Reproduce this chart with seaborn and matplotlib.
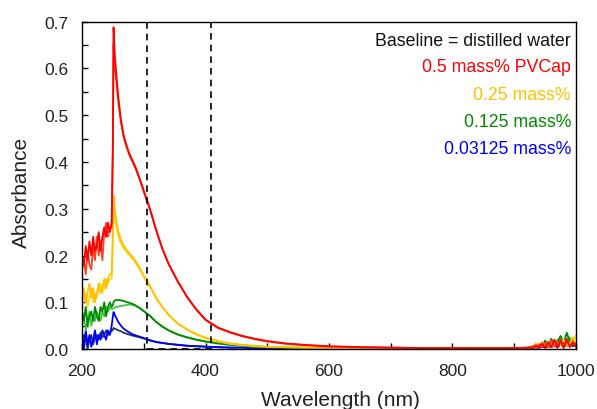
import matplotlib
matplotlib.use("Agg")
import matplotlib.pyplot as plt
from matplotlib.patches import Rectangle
from matplotlib.ticker import MultipleLocator
import seaborn as sns
import pandas as pd

# ---------------- data ----------------
wavelength = [200, 203, 206, 209, 212, 215, 218, 221, 224, 227, 230, 233, 236, 239, 242, 245, 248,
              250, 251, 252, 253,
              256, 259, 263, 267, 271, 276, 281, 287, 294, 301,
              310, 320, 330, 340, 355, 370, 385, 400,
              420, 440, 460, 480, 500, 530, 560, 600,
              650, 700, 750, 800, 850, 900,
              920, 930, 935, 940, 945, 950, 955, 960, 965, 970, 975, 980, 985, 990, 995, 1000]

red_a = [0.20, 0.18, 0.22, 0.19, 0.23, 0.20, 0.24, 0.21, 0.22, 0.25, 0.21, 0.24, 0.26, 0.24, 0.27, 0.25, 0.27,
         0.45, 0.688, 0.66, 0.63,
         0.58, 0.535, 0.49, 0.46, 0.44, 0.42, 0.405, 0.388, 0.362, 0.335,
         0.30, 0.255, 0.215, 0.183, 0.145, 0.112, 0.085, 0.063,
         0.046, 0.036, 0.028, 0.022, 0.017, 0.012, 0.009, 0.006,
         0.004, 0.003, 0.002, 0.002, 0.002, 0.002,
         0.003, 0.002, 0.008, 0.003, 0.012, 0.002, 0.015, 0.004, 0.02, 0.003, 0.018, 0.002, 0.022, 0.004, 0.015, 0.005]
red_b = [0.17, 0.19, 0.16, 0.21, 0.18, 0.17, 0.22, 0.19, 0.24, 0.20, 0.23, 0.19, 0.25, 0.27, 0.24, 0.26, 0.26,
         0.42, 0.65, 0.63, 0.605,
         0.565, 0.525, 0.485, 0.455, 0.436, 0.417, 0.402, 0.385, 0.36, 0.332,
         0.298, 0.254, 0.214, 0.182, 0.144, 0.111, 0.084, 0.062,
         0.045, 0.035, 0.027, 0.021, 0.016, 0.011, 0.008, 0.005,
         0.004, 0.003, 0.002, 0.002, 0.002, 0.002,
         0.002, 0.006, 0.003, 0.01, 0.004, 0.013, 0.003, 0.018, 0.005, 0.012, 0.02, 0.004, 0.016, 0.006, 0.01, 0.012]
yellow_a = [0.11, 0.13, 0.10, 0.12, 0.14, 0.11, 0.13, 0.10, 0.12, 0.14, 0.12, 0.13, 0.15, 0.13, 0.15, 0.16, 0.16,
            0.25, 0.328, 0.315, 0.30,
            0.272, 0.25, 0.233, 0.222, 0.214, 0.206, 0.198, 0.188, 0.172, 0.155,
            0.135, 0.11, 0.09, 0.074, 0.055, 0.042, 0.032, 0.024,
            0.017, 0.012, 0.009, 0.007, 0.005, 0.004, 0.003, 0.002,
            0.001, 0.001, 0.001, 0.001, 0.001, 0.001,
            0.002, 0.005, 0.012, 0.004, 0.015, 0.006, 0.01, 0.018, 0.005, 0.014, 0.008, 0.02, 0.006, 0.012, 0.025, 0.01]
yellow_b = [0.09, 0.11, 0.12, 0.09, 0.11, 0.13, 0.10, 0.12, 0.11, 0.13, 0.14, 0.12, 0.13, 0.15, 0.14, 0.15, 0.15,
            0.23, 0.306, 0.295, 0.282,
            0.258, 0.24, 0.226, 0.216, 0.209, 0.201, 0.194, 0.184, 0.169, 0.152,
            0.133, 0.108, 0.089, 0.073, 0.054, 0.041, 0.031, 0.023,
            0.016, 0.011, 0.008, 0.006, 0.005, 0.004, 0.003, 0.002,
            0.001, 0.001, 0.001, 0.001, 0.001, 0.001,
            0.001, 0.004, 0.008, 0.003, 0.012, 0.004, 0.016, 0.005, 0.011, 0.007, 0.014, 0.004, 0.018, 0.008, 0.013, 0.03]
green_a = [0.08, 0.06, 0.09, 0.05, 0.07, 0.08, 0.06, 0.09, 0.07, 0.06, 0.09, 0.08, 0.10, 0.07, 0.09, 0.10, 0.09,
           0.095, 0.10, 0.102, 0.104,
           0.105, 0.105, 0.104, 0.103, 0.101, 0.099, 0.097, 0.093, 0.087, 0.08,
           0.071, 0.058, 0.048, 0.04, 0.031, 0.025, 0.02, 0.016,
           0.012, 0.009, 0.007, 0.005, 0.004, 0.003, 0.002, 0.002,
           0.001, 0.001, 0.001, 0.001, 0.001, 0.001,
           0.002, 0.006, 0.003, 0.01, 0.005, 0.018, 0.008, 0.022, 0.01, 0.015, 0.028, 0.012, 0.035, 0.015, 0.02, 0.01]
green_b = [0.05, 0.07, 0.04, 0.06, 0.08, 0.05, 0.07, 0.06, 0.08, 0.07, 0.06, 0.08, 0.07, 0.09, 0.08, 0.09, 0.085,
           0.086, 0.087, 0.088, 0.089,
           0.09, 0.091, 0.092, 0.093, 0.094, 0.095, 0.095, 0.092, 0.087, 0.08,
           0.07, 0.058, 0.048, 0.04, 0.031, 0.025, 0.02, 0.016,
           0.012, 0.009, 0.007, 0.005, 0.004, 0.003, 0.002, 0.002,
           0.001, 0.001, 0.001, 0.001, 0.001, 0.001,
           0.003, 0.004, 0.009, 0.005, 0.012, 0.007, 0.01, 0.015, 0.006, 0.02, 0.009, 0.016, 0.008, 0.025, 0.012, 0.006]
blue_a = [0.03, 0.00, 0.04, 0.01, 0.03, 0.005, 0.02, 0.04, 0.01, 0.03, 0.02, 0.04, 0.03, 0.02, 0.04, 0.03, 0.05,
          0.07, 0.079, 0.077, 0.073,
          0.065, 0.057, 0.05, 0.044, 0.04, 0.036, 0.032, 0.029, 0.026, 0.023,
          0.019, 0.015, 0.013, 0.011, 0.009, 0.007, 0.006, 0.005,
          0.004, 0.003, 0.003, 0.002, 0.002, 0.001, 0.001, 0.001,
          0.001, 0.001, 0.001, 0.001, 0.001, 0.001,
          0.001, 0.003, 0.006, 0.002, 0.008, 0.003, 0.01, 0.004, 0.012, 0.005, 0.009, 0.014, 0.006, 0.011, 0.008, 0.01]
blue_b = [0.01, 0.03, 0.02, 0.00, 0.02, 0.03, 0.01, 0.025, 0.03, 0.02, 0.035, 0.025, 0.03, 0.04, 0.03, 0.035, 0.038,
          0.042, 0.045, 0.044, 0.043,
          0.042, 0.04, 0.038, 0.035, 0.033, 0.031, 0.029, 0.027, 0.025, 0.022,
          0.018, 0.015, 0.013, 0.011, 0.009, 0.007, 0.006, 0.005,
          0.004, 0.003, 0.003, 0.002, 0.002, 0.001, 0.001, 0.001,
          0.001, 0.001, 0.001, 0.001, 0.001, 0.001,
          0.001, 0.002, 0.004, 0.002, 0.006, 0.003, 0.007, 0.004, 0.009, 0.003, 0.011, 0.005, 0.008, 0.01, 0.006, 0.008]

legend_labels = ["Baseline = distilled water", "0.5 mass% PVCap", "0.25 mass%", "0.125 mass%", "0.03125 mass%"]
x_ticks = [200, 400, 600, 800, 1000]
y_ticks = [0.0, 0.1, 0.2, 0.3, 0.4, 0.5, 0.6, 0.7]
zoom_box = [306, 409]

# ---------------- style ----------------
sns.set_theme(style="white")
plt.rcParams["font.family"] = ["Liberation Sans", "DejaVu Sans"]

fig = plt.figure(figsize=(5.97, 4.10), dpi=100)
ax = fig.add_axes([0.1374, 0.1463, 0.8274, 0.7983])

traces = [
    (blue_b, "#203864"), (blue_a, "#0000FF"),
    (green_b, "#3CC83C"), (green_a, "#008A00"),
    (yellow_b, "#FFD820"), (yellow_a, "#FFC000"),
    (red_b, "#FF4020"), (red_a, "#FF0000"),
]
for vals, col in traces:
    df = pd.DataFrame({"wl": wavelength, "abs": vals})
    sns.lineplot(data=df, x="wl", y="abs", color=col, lw=1.3, ax=ax, legend=False)

ax.add_patch(Rectangle((zoom_box[0], 0), zoom_box[1] - zoom_box[0], 0.7, fill=False,
                       edgecolor="black", lw=1.2, linestyle=(0, (4, 3)), zorder=5))

ax.set_xlim(200, 1000)
ax.set_ylim(0, 0.7)
ax.set_xticks(x_ticks)
ax.set_yticks(y_ticks)
ax.set_xticklabels([str(t) for t in x_ticks])
ax.set_yticklabels([f"{t:.1f}" for t in y_ticks])
ax.xaxis.set_minor_locator(MultipleLocator(100))
ax.yaxis.set_minor_locator(MultipleLocator(0.05))
ax.tick_params(which="both", direction="in", length=4, width=1, color="black",
               bottom=True, left=True, top=False, right=False)
ax.tick_params(axis="both", which="major", labelsize=12.5, pad=10, labelcolor="#222222")

for s in ax.spines.values():
    s.set_visible(True)
    s.set_color("black")
    s.set_linewidth(1.0)

ax.set_xlabel("Wavelength (nm)", fontsize=15, color="#222222")
ax.set_ylabel("Absorbance", fontsize=15, color="#222222")
ax.xaxis.set_label_coords(0.524, -0.125)
ax.xaxis.label.set_va("top")
ax.yaxis.set_label_coords(-0.104, 0.48)

text_colors = ["#111111", "#FF0000", "#FFC000", "#008A00", "#0000FF"]
text_y = [0.942, 0.862, 0.779, 0.696, 0.614]
for lab, col, yy in zip(legend_labels, text_colors, text_y):
    ax.text(0.99, yy, lab, transform=ax.transAxes, ha="right", va="center",
            fontsize=12.8, color=col)

fig.savefig("out.png", dpi=100)
